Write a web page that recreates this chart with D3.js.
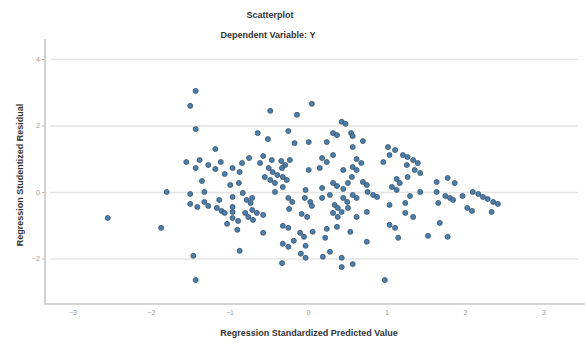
<!DOCTYPE html>
<html>
<head>
<meta charset="utf-8">
<script src="https://cdn.jsdelivr.net/npm/d3@7"></script>
<style>
  body { margin: 0; background: #fff; }
  text { font-family: "Liberation Sans", Arial, sans-serif; }
</style>
</head>
<body>
<div id="chart"></div>
<script>
// Regression standardized predicted value (x) and studentized residual (y)
const predicted = [
  -2.55, -1.87, -1.80, -1.43, -1.50, -1.43, -1.46, -1.43, -1.55, -1.38,
  -1.43, -1.27, -1.18, -1.11, -1.18, -1.06, -0.96, -0.84, -0.87, -1.35,
  -1.50, -1.32, -0.99, -0.88, -0.83, -0.96, -1.50, -1.41, -1.32, -1.27,
  -1.13, -1.16, -1.10, -1.06, -0.96, -0.96, -0.96, -0.89, -0.80, -1.03,
  -0.90, -0.87, -0.75,
  -0.48, -0.14, 0.05, -0.64, -0.51, -0.25, -0.17, 0.01, -0.57, -0.61,
  -0.46, -0.50, -0.45, -0.39, -0.34, -0.29, -0.23, -0.33, -0.71, -0.57,
  -0.57, -0.55, -0.48, -0.42, -0.32, -0.27, -0.32, -0.42, 0.01, -0.03,
  -0.25, -0.20, -0.04, 0.03, -0.24, -0.08, -0.01, 0.05, -0.78, -0.73,
  -0.71, -0.65, -0.76, -0.70, -0.32, -0.25, -0.10, -0.05, 0.06, -0.32,
  -0.25, -0.18, -0.03, -0.09, -0.03, -0.33,
  0.43, 0.48, 0.32, 0.37, 0.24, 0.55, 0.57, 0.70, 0.57, 1.02,
  1.11, 0.96, 1.04, 0.18, 0.24, 0.32, 0.15, 0.45, 0.62, 0.68,
  0.57, 0.62, 1.13, 1.17, 0.70, 0.75, 0.76, 0.83, 0.88, 1.07,
  0.18, 0.32, 0.37, 0.45, 0.51, 0.56, 0.28, 0.34, 0.38, 0.43,
  0.45, 0.50, 0.57, 0.62, 0.51, 0.62, 0.18, 0.32, 0.38, 0.75,
  1.04, 1.04, 1.11, 0.24, 0.37, 0.54, 0.75, 0.22, 0.28, 0.19,
  0.43, 0.43, 0.57, 0.98, 1.15, 1.13,
  1.21, 1.27, 1.34, 1.40, 1.26, 1.36, 1.43, 1.27, 1.64, 1.78,
  1.87, 1.43, 1.64, 1.30, 1.75, 1.81, 1.85, 1.97, 2.10, 2.17,
  2.23, 2.29, 2.36, 2.42, 1.66, 1.24, 2.03, 2.09, 2.34, 1.24,
  1.34, 1.68, 1.53, 1.78
];
const residual = [
  -0.78, -1.08, 0.00, 3.04, 2.59, 1.89, -1.92, -2.65, 0.90, 0.96,
  0.72, 0.81, 0.69, 0.90, 1.29, 0.54, 0.72, 0.87, 0.60, 0.33,
  -0.06, 0.00, 0.21, 0.27, -0.03, -0.15, -0.36, -0.45, -0.30, -0.42,
  -0.24, -0.48, -0.57, -0.63, -0.45, -0.60, -0.78, -0.87, -0.63, -0.96,
  -1.14, -1.77, 1.02,
  2.44, 2.32, 2.65, 1.77, 1.59, 1.83, 1.47, 1.50, 1.08, 0.87,
  0.96, 0.72, 0.60, 0.51, 0.93, 0.81, 0.96, 0.72, -0.18, -0.69,
  -1.23, 0.45, 0.36, 0.27, 0.45, 0.36, 0.15, 0.00, 0.66, 0.06,
  -0.18, -0.30, -0.18, -0.30, -0.51, -0.66, -0.75, -0.42, -0.24, -0.33,
  -0.54, -0.63, -0.75, -0.84, -1.02, -1.08, -1.23, -1.35, -1.20, -1.56,
  -1.65, -1.47, -1.62, -1.86, -1.98, -2.14,
  2.11, 2.05, 1.77, 1.71, 1.50, 1.77, 1.68, 1.53, 1.35, 1.35,
  1.26, 0.90, 1.11, 1.02, 0.90, 1.11, 0.72, 0.66, 0.99, 0.87,
  0.75, 0.66, 0.39, 0.27, 0.30, 0.21, 0.00, -0.09, -0.15, 0.15,
  0.12, 0.27, 0.18, 0.09, 0.27, 0.45, -0.09, -0.39, -0.48, -0.60,
  -0.18, -0.30, -0.09, -0.18, -0.48, -0.75, -0.18, -0.63, -0.75, -0.60,
  -0.39, -0.99, -1.08, -1.11, -1.05, -1.20, -1.50, -1.38, -1.80, -1.95,
  -1.98, -2.26, -2.17, -2.65, -1.38, 0.06,
  1.11, 1.05, 0.96, 0.87, 0.81, 0.66, 0.57, 0.45, 0.30, 0.42,
  0.27, 0.00, 0.00, -0.12, -0.12, -0.18, -0.24, -0.12, 0.00, -0.06,
  -0.15, -0.21, -0.30, -0.36, -0.33, -0.33, -0.48, -0.57, -0.60, -0.63,
  -0.75, -0.93, -1.32, -1.35
];
const xTicks = [-3, -2, -1, 0, 1, 2, 3];
const yTicks = [-2, 0, 2, 4];

const W = 585, H = 343;
const plot = {left: 45, right: 585, top: 45, bottom: 304};

const svg = d3.select("#chart").append("svg")
  .attr("width", W)
  .attr("height", H);

const x = d3.scaleLinear().domain([-3.35, 3.53]).range([plot.left, plot.right]);
const y = d3.scaleLinear().domain([-3.37, 4.42]).range([plot.bottom, plot.top]);

// horizontal grid lines
svg.append("g")
  .attr("class", "grid")
  .attr("transform", `translate(50, 0)`)
  .call(d3.axisRight(y).tickValues(yTicks).tickSize(528).tickFormat(""))
  .call(g => g.select(".domain").remove())
  .call(g => g.selectAll("line").attr("stroke", "#e4e4e4").attr("stroke-width", 1.5));

// y tick labels
svg.append("g")
  .attr("transform", `translate(${plot.left}, 0)`)
  .call(d3.axisLeft(y).tickValues(yTicks).tickFormat(d3.format("d")).tickSize(3).tickPadding(2))
  .call(g => g.select(".domain").remove())
  .call(g => g.selectAll("line").attr("stroke", "#bbb"))
  .call(g => g.selectAll("text").attr("fill", "#999").style("font-size", "7px"));

// x tick labels
svg.append("g")
  .attr("transform", `translate(0, ${plot.bottom})`)
  .call(d3.axisBottom(x).tickValues(xTicks).tickFormat(d3.format("d")).tickSize(0).tickPadding(6))
  .call(g => g.select(".domain").remove())
  .call(g => g.selectAll("text").attr("fill", "#999").style("font-size", "7px"));

// axis frame (left and bottom)
svg.append("path")
  .attr("d", `M${plot.left},${plot.top - 6}V${plot.bottom}H${plot.right}`)
  .attr("fill", "none")
  .attr("stroke", "#c6c6c6")
  .attr("stroke-width", 1.6);

// points
svg.append("g")
  .selectAll("circle")
  .data(predicted.map((d, i) => [d, residual[i]]))
  .join("circle")
  .attr("cx", d => x(d[0]))
  .attr("cy", d => y(d[1]))
  .attr("r", 2.5)
  .attr("fill", "#4a80ae")
  .attr("stroke", "#3a4f66")
  .attr("stroke-width", 0.8);

// titles
svg.append("text")
  .attr("x", 270).attr("y", 18)
  .attr("text-anchor", "middle")
  .style("font-size", "9px").style("font-weight", "bold").attr("fill", "#333")
  .text("Scatterplot");

svg.append("text")
  .attr("x", 268).attr("y", 38)
  .attr("text-anchor", "middle")
  .style("font-size", "9px").style("font-weight", "bold").attr("fill", "#333")
  .text("Dependent Variable: Y");

svg.append("text")
  .attr("x", 309).attr("y", 336)
  .attr("text-anchor", "middle")
  .style("font-size", "9px").style("font-weight", "bold").attr("fill", "#333")
  .text("Regression Standardized Predicted Value");

svg.append("text")
  .attr("transform", "translate(23, 175) rotate(-90)")
  .attr("text-anchor", "middle")
  .style("font-size", "9px").style("font-weight", "bold").attr("fill", "#333")
  .text("Regression Studentized Residual");
</script>
</body>
</html>
